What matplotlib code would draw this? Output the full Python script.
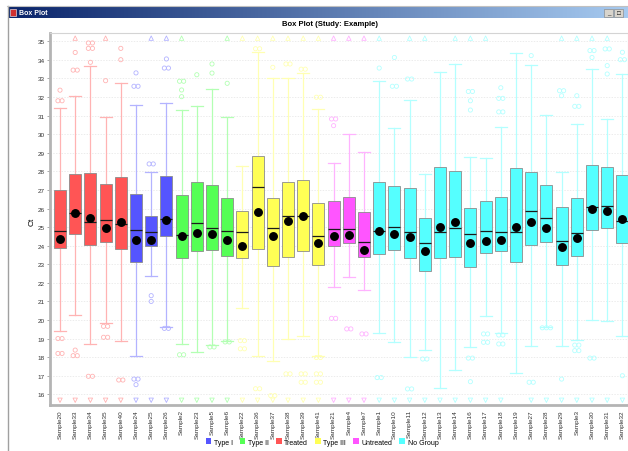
import matplotlib
matplotlib.use("Agg")
import matplotlib.pyplot as plt
import numpy as np
from collections import Counter
from matplotlib.patches import Rectangle, Patch
from matplotlib.lines import Line2D
from matplotlib.colors import to_rgb

plt.rcParams['font.family'] = ['Liberation Sans', 'DejaVu Sans']

# ---- data -------------------------------------------------------------
samples = ["Sample20", "Sample33", "Sample34", "Sample35", "Sample40",
           "Sample24", "Sample25", "Sample26",
           "Sample2", "Sample23", "Sample5", "Sample6",
           "Sample22", "Sample36", "Sample37", "Sample38", "Sample39", "Sample41",
           "Sample21", "Sample4", "Sample7",
           "Sample1", "Sample10", "Sample11", "Sample12", "Sample13", "Sample14",
           "Sample16", "Sample17", "Sample18", "Sample19", "Sample27", "Sample28",
           "Sample29", "Sample3", "Sample30", "Sample31", "Sample32"]
groups = (["Treated"] * 5 + ["Type I"] * 3 + ["Type II"] * 4 + ["Type III"] * 6
          + ["Untreated"] * 3 + ["No Group"] * 17)

q1 = [23.86, 24.63, 24.05, 24.21, 23.82, 23.14, 23.97, 24.50, 23.32, 23.70,
      23.77, 23.46, 23.32, 23.82, 22.89, 23.41, 23.70, 22.98, 24.00, 24.14,
      23.37, 23.55, 23.77, 23.32, 22.62, 23.34, 23.41, 22.84, 23.59, 23.70,
      23.10, 24.05, 24.18, 22.98, 23.46, 24.86, 24.94, 24.13]
median = [24.77, 25.75, 25.26, 25.36, 25.17, 24.84, 24.75, 25.44, 24.60, 25.22,
          24.94, 24.77, 24.72, 27.17, 24.94, 25.58, 25.61, 24.50, 24.90, 24.90,
          24.21, 24.81, 25.02, 24.72, 24.14, 24.75, 24.94, 24.63, 24.77, 24.72,
          24.75, 25.88, 25.47, 24.27, 24.68, 26.06, 26.15, 25.31]
q3 = [27.00, 27.86, 27.90, 27.32, 27.72, 26.78, 25.61, 27.77, 26.73, 27.41,
      27.28, 26.55, 25.88, 28.84, 26.55, 27.45, 27.53, 26.30, 26.39, 26.60,
      25.83, 27.41, 27.20, 27.10, 25.47, 28.25, 28.04, 26.03, 26.42, 26.64,
      28.16, 27.95, 27.26, 26.10, 26.55, 28.34, 28.22, 27.82]
mean = [24.36, 25.75, 25.49, 24.96, 25.30, 24.30, 24.30, 25.38, 24.54, 24.68,
        24.63, 24.32, 24.00, 25.80, 24.54, 25.34, 25.58, 24.14, 24.50, 24.57,
        23.78, 24.81, 24.63, 24.45, 23.70, 24.99, 25.26, 24.13, 24.25, 24.30,
        25.02, 25.26, 24.96, 23.91, 24.41, 25.97, 25.85, 25.44]
whisker_low = [19.40, 20.29, 18.71, 19.84, 18.85, 18.08, 22.35, 19.65, 18.71, 18.26,
               18.65, 18.89, 20.67, 18.08, 17.81, 19.00, 19.12, 18.08, 21.76, 22.30,
               21.63, 19.28, 18.80, 18.02, 18.38, 16.34, 17.33, 18.52, 20.20, 19.30,
               17.15, 18.58, 19.65, 18.58, 18.92, 20.02, 19.93, 19.15]
whisker_high = [31.40, 32.07, 33.69, 30.94, 32.76, 31.59, 27.95, 31.66, 31.32, 31.50,
                32.43, 30.91, 28.27, 34.45, 33.00, 33.00, 33.30, 31.36, 28.45, 30.01,
                29.06, 32.88, 30.31, 31.86, 27.86, 33.37, 33.78, 28.76, 28.70, 30.37,
                34.37, 33.74, 31.03, 27.98, 30.55, 33.51, 30.82, 33.24]
outliers = [
    [32.37, 31.8, 31.8, 19.0, 19.0, 18.2, 18.2],
    [34.4, 33.45, 33.45, 18.38, 18.08, 18.08],
    [34.91, 34.91, 34.62, 34.62, 33.87, 16.97, 16.97],
    [32.88, 19.66, 19.66, 19.07, 19.07],
    [34.62, 34.01, 16.77, 16.77],
    [33.3, 32.58, 32.58, 16.82, 16.82, 16.52],
    [28.4, 28.4, 21.31, 21.0],
    [34.05, 33.56, 33.56, 19.55, 19.55],
    [32.85, 32.85, 32.38, 32.02, 18.13, 18.13],
    [33.2],
    [33.78, 33.29, 18.55, 18.55],
    [32.74, 18.82, 18.82],
    [18.89, 18.89, 18.45, 18.45],
    [34.6, 34.6, 16.3, 16.3],
    [33.6, 15.93, 15.93],
    [33.78, 33.78, 17.1, 17.1],
    [33.5, 33.5, 17.1, 17.1, 16.65, 16.65],
    [31.99, 31.99, 17.98, 17.98, 17.1, 17.1, 16.65, 16.65],
    [30.82, 30.82, 30.46, 20.09, 20.09],
    [19.52, 19.52],
    [19.25, 19.25],
    [33.56, 16.9, 16.9],
    [34.13, 32.58, 32.58],
    [32.97, 32.97, 16.29, 16.29],
    [17.9, 17.9],
    [],
    [],
    [32.3, 32.3, 31.8, 31.3, 17.95, 17.95, 16.68],
    [19.25, 19.25, 18.8, 18.8],
    [32.5, 31.93, 31.93, 31.2, 31.2, 19.19, 19.19, 18.71, 18.71],
    [],
    [34.23, 16.65, 16.65],
    [19.58, 19.58, 19.58],
    [32.34, 32.34, 32.07, 16.82],
    [32.07, 31.5, 31.5, 18.65, 18.65, 18.35, 18.35],
    [34.5, 34.5, 34.13, 17.95, 17.95],
    [34.59, 34.59, 33.69, 33.24],
    [34.41, 34.01, 34.01, 17.0],
]
# samples with values above / below the visible range
far_high = [0, 1, 0, 1, 0, 0, 1, 1, 1, 0, 0, 1, 1, 1, 1, 1, 1, 1, 1, 1,
            1, 1, 0, 1, 1, 0, 1, 1, 1, 0, 0, 0, 0, 1, 1, 1, 1, 0]
far_low = [1] * 30 + [0] + [1] * 7

legend_order = ["Type I", "Type II", "Treated", "Type III", "Untreated", "No Group"]
group_colors = {"Type I": "#5555FF", "Type II": "#55FF55", "Treated": "#FF5555",
                "Type III": "#FFFF55", "Untreated": "#FF55FF", "No Group": "#55FFFF"}

# ---- figure / window frame ---------------------------------------------
W, H = 628, 452
fig = plt.figure(figsize=(W / 100, H / 100), dpi=100)
fig.patch.set_facecolor("white")


def fx(x):
    return x / W


def fy(y):
    return 1 - y / H


def pale(c, k=0.5):
    r = np.array(to_rgb(c))
    return tuple(r * k + (1 - k))


# window border
fig.add_artist(Line2D([fx(7.5), fx(7.5)], [fy(7), fy(452)], color="#a0a0a0", lw=1.0))
fig.add_artist(Line2D([fx(7), fx(628)], [fy(7), fy(7)], color="#c0c0c0", lw=0.8))

# title bar with gradient
tb = fig.add_axes([fx(8), fy(19), fx(620), (19 - 8) / H])
grad = np.linspace(0, 1, 256)
c0 = np.array([10, 36, 106]) / 255
c1 = np.array([166, 202, 240]) / 255
img = (c0[None, :] * (1 - grad[:, None]) + c1[None, :] * grad[:, None])[None, :, :]
tb.imshow(img, aspect="auto", extent=[0, 1, 0, 1])
tb.set_axis_off()
fig.add_artist(Rectangle((fx(10), fy(17)), fx(6), 7 / H, facecolor="#d03030",
                         edgecolor="white", lw=0.4))
fig.text(fx(19), fy(13.5), "Box Plot", color="white", fontsize=5, fontweight="bold",
         va="center", ha="left")
for bx, sym in [(604, "_"), (614, "□")]:
    fig.add_artist(Rectangle((fx(bx), fy(17.5)), fx(9), 8 / H, facecolor="#d8d4cc",
                             edgecolor="#808080", lw=0.4))
    fig.text(fx(bx + 4.5), fy(13.5), sym, fontsize=4.5, ha="center", va="center",
             color="black")

# chart title
fig.text(fx(330), fy(25), "Box Plot (Study: Example)", fontsize=5.5,
         fontweight="bold", ha="center", va="center")

# ---- plot area ----------------------------------------------------------
ax = fig.add_axes([fx(50), fy(406), fx(628 - 50), (406 - 34) / H])
n = len(samples)
pos = np.arange(n)
step = 15.2
ax.set_xlim((50 - 60) / step, (628 - 60) / step)
ax.set_ylim(15.425, 35.447)

stats = []
for i in range(n):
    stats.append(dict(med=median[i], q1=q1[i], q3=q3[i], whislo=whisker_low[i],
                      whishi=whisker_high[i], mean=mean[i], fliers=[], label=samples[i]))

bw = 0.78
res = ax.bxp(stats, positions=pos, widths=bw, capwidths=bw, patch_artist=True,
             showmeans=True, showfliers=False, manage_ticks=False,
             meanprops=dict(marker="o", markerfacecolor="black",
                            markeredgecolor="black", markersize=5.4),
             medianprops=dict(color="#1a1a1a", lw=0.9),
             boxprops=dict(edgecolor="#8c8c8c", lw=0.6),
             whiskerprops=dict(lw=0.9), capprops=dict(lw=0.9))

for i in range(n):
    c = group_colors[groups[i]]
    pc = pale(c, 0.45)
    res["boxes"][i].set_facecolor(c)
    for art in (res["whiskers"][2 * i], res["whiskers"][2 * i + 1],
                res["caps"][2 * i], res["caps"][2 * i + 1]):
        art.set_color(pc)
        art.set_zorder(1.5)

    # outliers: coincident values are spread side by side
    cnt = Counter(outliers[i])
    xs, ys = [], []
    for v, k in cnt.items():
        offs = (np.arange(k) - (k - 1) / 2) * 0.27
        xs.extend(pos[i] + offs)
        ys.extend([v] * k)
    if xs:
        ax.scatter(xs, ys, s=9, facecolors="none", edgecolors=[pc], linewidths=0.6,
                   zorder=2)
    if far_high[i]:
        ax.scatter([pos[i]], [35.17], marker="^", s=10, facecolors="none",
                   edgecolors=[pc], linewidths=0.6, zorder=2)
    if far_low[i]:
        ax.scatter([pos[i]], [15.68], marker="v", s=10, facecolors="none",
                   edgecolors=[pc], linewidths=0.6, zorder=2)

# axes styling
ax.set_yticks(np.arange(16, 36))
ax.set_yticklabels([str(v) for v in range(16, 36)], fontsize=4.6, color="#333333")
ax.tick_params(axis="y", length=2, width=0.5, color="#888888", pad=2)
ax.set_xticks(pos)
ax.set_xticklabels(samples, rotation=90, fontsize=4.6, color="#333333")
ax.tick_params(axis="x", length=0, pad=3)
ax.grid(axis="y", color="#e4e4e4", lw=0.5, ls=(0, (2, 2)))
ax.set_axisbelow(True)
for side in ("left", "bottom"):
    ax.spines[side].set_color("#b4b4b4")
    ax.spines[side].set_linewidth(2.0)
for side in ("top", "right"):
    ax.spines[side].set_color("#d4d4d4")
    ax.spines[side].set_linewidth(0.8)

fig.text(fx(32), fy(222), "Ct", fontsize=6, rotation=90, ha="center", va="center")

handles = [Patch(facecolor=group_colors[g], edgecolor="none") for g in legend_order]
fig.legend(handles, legend_order, loc="center", bbox_to_anchor=(fx(322), fy(443)),
           ncol=6, frameon=False, fontsize=5, handlelength=0.8, handleheight=0.8,
           handletextpad=0.4, columnspacing=1.0)

fig.savefig("out.png", dpi=100)
